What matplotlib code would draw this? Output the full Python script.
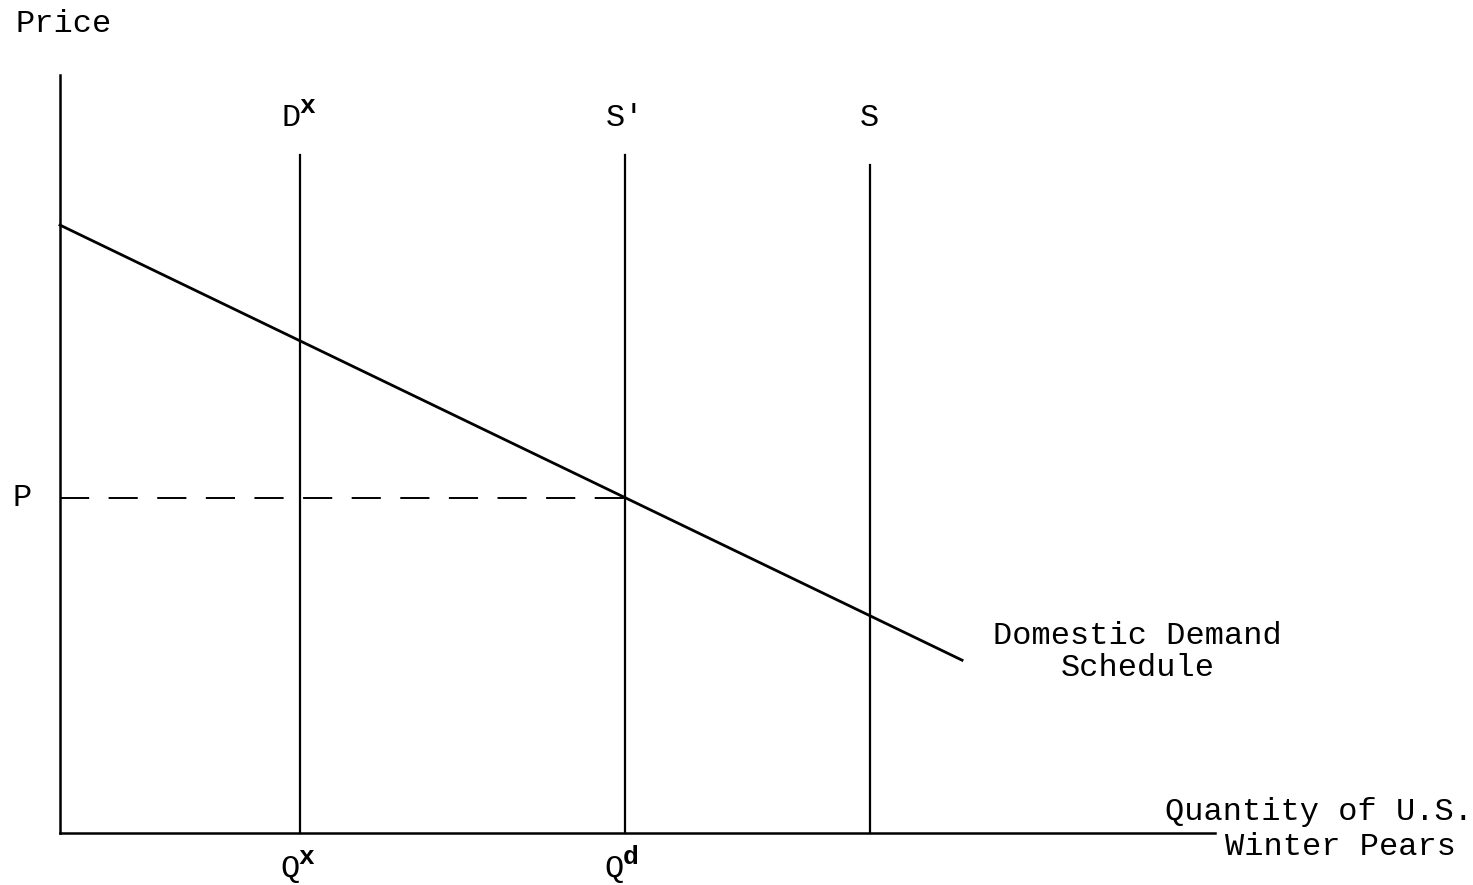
import matplotlib.pyplot as plt

plt.rcParams['font.family'] = ['Liberation Mono', 'DejaVu Sans Mono']

# quantities (arbitrary units, 0-100)
q_export = 20.8     # Q^x, D^x line
q_domestic = 48.9   # Q^d, S' line
q_supply = 70.1     # S line
line_tops = [89.4, 89.4, 88.1]
line_base = ['D', "S'", 'S']
line_sup = ['x', '', '']
q_base = ['Q', 'Q']
q_sup = ['x', 'd']

# domestic demand schedule (two end points)
demand_q = [0.0, 78.1]
demand_p = [80.2, 22.8]
price_p = 44.2

fig = plt.figure(figsize=(14.73, 8.85), dpi=100)
ax = fig.add_axes([60 / 1473, 52 / 885, 1155 / 1473, 758 / 885])
ax.set_xlim(0, 100)
ax.set_ylim(0, 100)
for s in ['top', 'right']:
    ax.spines[s].set_visible(False)
for s in ['left', 'bottom']:
    ax.spines[s].set_linewidth(1.8)
ax.set_xticks([])
ax.set_yticks([])

fs = 23
sfs = 19


def label(x, y, base, sup):
    # base letter plus a raised superscript
    ax.text(x, y, base, ha='center', va='center', fontsize=fs, clip_on=False)
    if sup:
        ax.annotate(sup, (x, y), xytext=(6, 9), textcoords='offset points',
                    ha='left', va='center', fontsize=sfs, fontweight='bold',
                    annotation_clip=False)


# vertical supply / export lines
qs = [q_export, q_domestic, q_supply]
offs = [-0.8, 0, 0]
for q, top, b, sp, o in zip(qs, line_tops, line_base, line_sup, offs):
    ax.plot([q, q], [0, top], color='black', lw=1.6, clip_on=False)
    label(q + o, 94.3, b, sp)

# demand line
ax.plot(demand_q, demand_p, color='black', lw=2, clip_on=False)

# price dashed line
ax.plot([0, q_domestic], [price_p, price_p], color='black', lw=1.4,
        linestyle=(0, (15, 10)))
ax.text(-3.3, price_p, 'P', ha='center', va='center', fontsize=fs, clip_on=False)

# quantity labels
for q, b, sp in zip([q_export, q_domestic], q_base, q_sup):
    label(q - 0.9, -4.8, b, sp)

ax.text(93.3, 23.9, 'Domestic Demand\nSchedule', ha='center', va='center',
        fontsize=fs, linespacing=1.1, clip_on=False)

fig.text(15 / 1473, 1 - 24 / 885, 'Price', ha='left', va='center', fontsize=fs)
fig.text(1165 / 1473, 1 - 812 / 885, 'Quantity of U.S.', ha='left', va='center', fontsize=fs)
fig.text(1225 / 1473, 1 - 847 / 885, 'Winter Pears', ha='left', va='center', fontsize=fs)

fig.savefig('out.png', dpi=100)
